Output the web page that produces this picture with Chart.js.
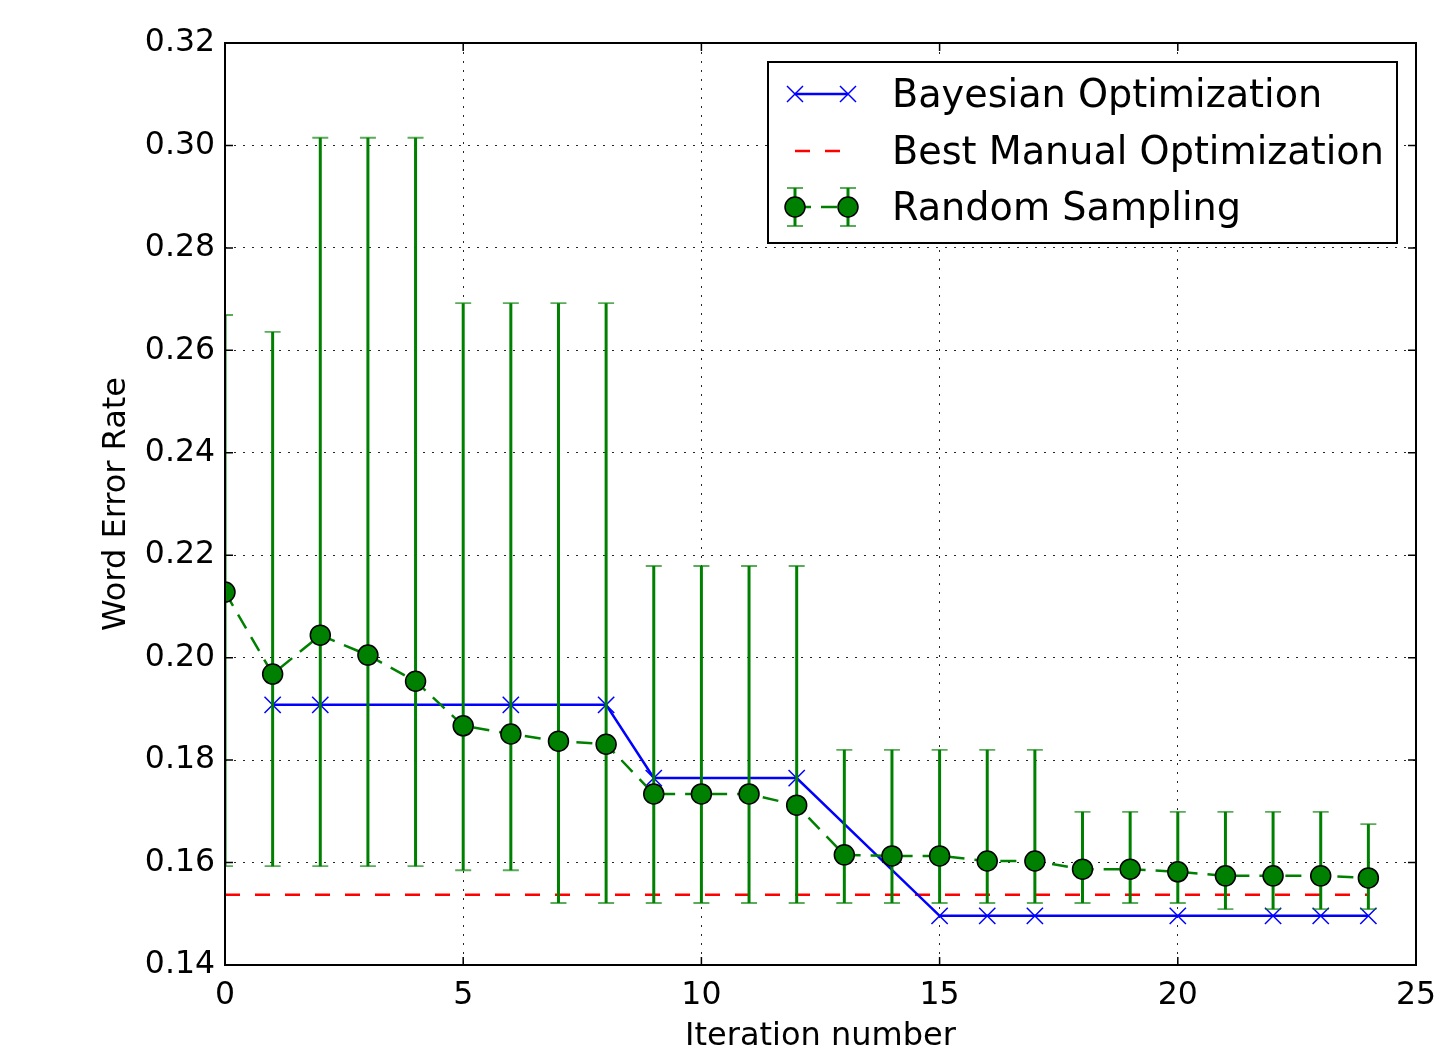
<!DOCTYPE html>
<html>
<head>
<meta charset="utf-8">
<script src="https://cdn.jsdelivr.net/npm/chart.js@4.4.0/dist/chart.umd.min.js"></script>
<style>
  html, body { margin: 0; padding: 0; background: #fff; }
  canvas { display: block; }
</style>
</head>
<body>
<canvas id="chart" width="1438" height="1050"></canvas>
<script>
// Word error rate vs. iteration: Bayesian opt vs random sampling

const iterations = [0, 1, 2, 3, 4, 5, 6, 7, 8, 9, 10, 11, 12, 13, 14, 15, 16, 17, 18, 19, 20, 21, 22, 23, 24];

// random sampling: mean and error bar ends
const rsMean = [0.2128, 0.1968, 0.2044, 0.2005, 0.1954, 0.1867, 0.1851, 0.1837, 0.1831, 0.1734,
  0.1734, 0.1734, 0.1712, 0.1615, 0.1613, 0.1613, 0.1603, 0.1603, 0.1587, 0.1587,
  0.1582, 0.1574, 0.1574, 0.1574, 0.1570];
const rsLow = [0.1593, 0.1593, 0.1593, 0.1593, 0.1593, 0.1585, 0.1585, 0.1521, 0.1521, 0.1521,
  0.1521, 0.1521, 0.1521, 0.1521, 0.1521, 0.1521, 0.1521, 0.1521, 0.1521, 0.1521,
  0.1521, 0.1509, 0.1509, 0.1509, 0.1509];
const rsHigh = [0.2669, 0.2636, 0.3015, 0.3015, 0.3015, 0.2692, 0.2692, 0.2692, 0.2692, 0.2179,
  0.2179, 0.2179, 0.2179, 0.1820, 0.1820, 0.1820, 0.1820, 0.1820, 0.1699, 0.1699,
  0.1699, 0.1699, 0.1699, 0.1699, 0.1675];

// bayesian optimization: only the marked iterations
const boIter = [1, 2, 6, 8, 9, 12, 15, 16, 17, 20, 22, 23, 24];
const boValue = [0.1908, 0.1908, 0.1908, 0.1908, 0.1765, 0.1765, 0.1496, 0.1496, 0.1496, 0.1496,
  0.1496, 0.1496, 0.1496];

// best manual optimization (flat)
const manualValue = 0.1537;

const xTicks = [0, 5, 10, 15, 20, 25];
const yTicks = [0.14, 0.16, 0.18, 0.20, 0.22, 0.24, 0.26, 0.28, 0.30, 0.32];

const seriesNames = ["Bayesian Optimization", "Best Manual Optimization", "Random Sampling"];

const BLUE = "#0000ff";
const RED = "#ff0000";
const GREEN = "#008000";
const FONT = "'DejaVu Sans', sans-serif";

function drawCircle(ctx, x, y, r) {
  ctx.beginPath();
  ctx.arc(x, y, r, 0, Math.PI * 2);
  ctx.fillStyle = GREEN;
  ctx.fill();
  ctx.lineWidth = 1.5;
  ctx.strokeStyle = "#000";
  ctx.stroke();
}

function drawX(ctx, x, y, h) {
  ctx.beginPath();
  ctx.moveTo(x - h, y - h);
  ctx.lineTo(x + h, y + h);
  ctx.moveTo(x - h, y + h);
  ctx.lineTo(x + h, y - h);
  ctx.lineWidth = 1.5;
  ctx.strokeStyle = BLUE;
  ctx.stroke();
}

function drawErrorBar(ctx, x, yTop, yBot, cap) {
  ctx.strokeStyle = GREEN;
  ctx.lineWidth = 3;
  ctx.beginPath();
  ctx.moveTo(x, yTop);
  ctx.lineTo(x, yBot);
  ctx.stroke();
  ctx.lineWidth = 1.8;
  ctx.strokeStyle = "rgba(0,128,0,0.65)";
  ctx.beginPath();
  ctx.moveTo(x - cap, yTop);
  ctx.lineTo(x + cap, yTop);
  ctx.moveTo(x - cap, yBot);
  ctx.lineTo(x + cap, yBot);
  ctx.stroke();
}

const errorBars = {
  id: "errorBars",
  beforeDatasetDraw(chart, args) {
    if (args.index !== 2) return;
    const { ctx, chartArea: a, scales } = chart;
    ctx.save();
    ctx.beginPath();
    ctx.rect(a.left, a.top, a.right - a.left, a.bottom - a.top);
    ctx.clip();
    iterations.forEach((it, i) => {
      const x = scales.x.getPixelForValue(it);
      drawErrorBar(ctx, x, scales.y.getPixelForValue(rsHigh[i]), scales.y.getPixelForValue(rsLow[i]), 8);
    });
    ctx.restore();
  }
};

const frame = {
  id: "frame",
  afterDraw(chart) {
    const { ctx, chartArea: a, scales } = chart;
    ctx.save();
    // inward ticks on all four sides
    ctx.strokeStyle = "#000";
    ctx.lineWidth = 1.5;
    ctx.beginPath();
    xTicks.forEach(v => {
      const x = scales.x.getPixelForValue(v);
      ctx.moveTo(x, a.bottom); ctx.lineTo(x, a.bottom - 8);
      ctx.moveTo(x, a.top); ctx.lineTo(x, a.top + 8);
    });
    yTicks.forEach(v => {
      const y = scales.y.getPixelForValue(v);
      ctx.moveTo(a.left, y); ctx.lineTo(a.left + 8, y);
      ctx.moveTo(a.right, y); ctx.lineTo(a.right - 8, y);
    });
    ctx.stroke();
    ctx.lineWidth = 2;
    ctx.strokeRect(a.left, a.top, a.right - a.left, a.bottom - a.top);

    // legend box
    const bw = 629, bh = 181;
    const bx = a.right - 19 - bw, by = a.top + 19;
    ctx.fillStyle = "#fff";
    ctx.fillRect(bx, by, bw, bh);
    ctx.lineWidth = 2;
    ctx.strokeStyle = "#000";
    ctx.strokeRect(bx, by, bw, bh);

    const x1 = bx + 27, x2 = bx + 80, tx = bx + 124;
    const rows = [by + 32, by + 89, by + 145];

    // bayesian
    ctx.strokeStyle = BLUE;
    ctx.lineWidth = 2.5;
    ctx.beginPath(); ctx.moveTo(x1, rows[0]); ctx.lineTo(x2, rows[0]); ctx.stroke();
    drawX(ctx, x1, rows[0], 8);
    drawX(ctx, x2, rows[0], 8);

    // manual
    ctx.strokeStyle = RED;
    ctx.lineWidth = 2.5;
    ctx.setLineDash([15, 15]);
    ctx.beginPath(); ctx.moveTo(x1, rows[1]); ctx.lineTo(x2, rows[1]); ctx.stroke();

    // random sampling
    ctx.strokeStyle = GREEN;
    ctx.setLineDash([16, 10]);
    ctx.beginPath(); ctx.moveTo(x1, rows[2]); ctx.lineTo(x2, rows[2]); ctx.stroke();
    ctx.setLineDash([]);
    drawErrorBar(ctx, x1, rows[2] - 19, rows[2] + 19, 8);
    drawErrorBar(ctx, x2, rows[2] - 19, rows[2] + 19, 8);
    drawCircle(ctx, x1, rows[2], 10);
    drawCircle(ctx, x2, rows[2], 10);

    ctx.fillStyle = "#000";
    ctx.font = "38.2px " + FONT;
    ctx.textBaseline = "middle";
    ctx.textAlign = "left";
    seriesNames.forEach((name, i) => ctx.fillText(name, tx, rows[i] + 3));
    ctx.restore();
  }
};

const ctx = document.getElementById("chart").getContext("2d");

new Chart(ctx, {
  type: "line",
  data: {
    datasets: [
      {
        label: seriesNames[0],
        data: boIter.map((x, i) => ({ x, y: boValue[i] })),
        borderColor: BLUE,
        borderWidth: 2.5,
        pointStyle: "crossRot",
        pointRadius: 11.5,
        pointBorderWidth: 1.5,
        pointBorderColor: BLUE,
        pointBackgroundColor: BLUE,
        tension: 0,
        fill: false,
        clip: 0,
        order: 1
      },
      {
        label: seriesNames[1],
        data: iterations.map(x => ({ x, y: manualValue })),
        borderColor: RED,
        borderWidth: 2.5,
        borderDash: [15, 15],
        pointRadius: 0,
        tension: 0,
        fill: false,
        clip: 0,
        order: 2
      },
      {
        label: seriesNames[2],
        data: iterations.map((x, i) => ({ x, y: rsMean[i] })),
        borderColor: GREEN,
        borderWidth: 2.5,
        borderDash: [16, 10],
        pointStyle: "circle",
        pointRadius: 10,
        pointBackgroundColor: GREEN,
        pointBorderColor: "#000",
        pointBorderWidth: 1.5,
        tension: 0,
        fill: false,
        clip: 0,
        order: 0
      }
    ]
  },
  options: {
    responsive: false,
    animation: false,
    devicePixelRatio: 1,
    layout: { padding: { top: 43, right: 22, left: 97, bottom: 0 } },
    plugins: {
      legend: { display: false },
      tooltip: { enabled: false }
    },
    scales: {
      x: {
        type: "linear",
        min: 0,
        max: 25,
        afterFit: s => { s.height = 85; s.paddingRight = 0; s.paddingLeft = 0; },
        afterBuildTicks: s => { s.ticks = xTicks.map(v => ({ value: v })); },
        ticks: { color: "#000", font: { family: FONT, size: 31.5 }, padding: 12, maxRotation: 0 },
        grid: { color: "rgba(0,0,0,0.85)", lineWidth: 1, drawTicks: false },
        border: { display: false, dash: [2, 7] },
        title: {
          display: true,
          text: "Iteration number",
          color: "#000",
          font: { family: FONT, size: 32 },
          padding: { top: 0, bottom: -6 }
        }
      },
      y: {
        type: "linear",
        min: 0.14,
        max: 0.32,
        afterFit: s => { s.width = 128; },
        afterBuildTicks: s => { s.ticks = yTicks.map(v => ({ value: v })); },
        ticks: {
          color: "#000",
          font: { family: FONT, size: 31.5 },
          padding: 10,
          callback: v => Number(v).toFixed(2)
        },
        grid: { color: "rgba(0,0,0,0.85)", lineWidth: 1, drawTicks: false },
        border: { display: false, dash: [2, 7] },
        title: {
          display: true,
          text: "Word Error Rate",
          color: "#000",
          font: { family: FONT, size: 32 },
          padding: { top: 0, bottom: 0 }
        }
      }
    }
  },
  plugins: [errorBars, frame]
});
</script>
</body>
</html>
